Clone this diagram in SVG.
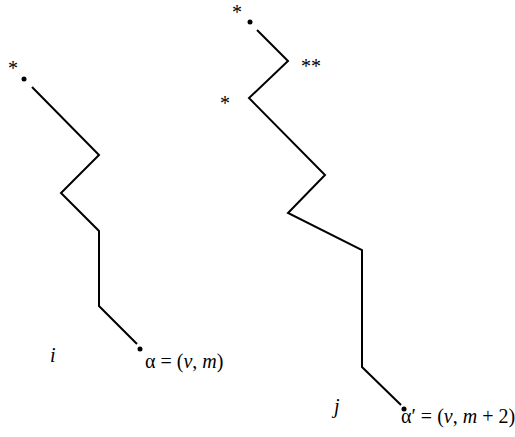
<svg xmlns="http://www.w3.org/2000/svg" width="515" height="437" viewBox="0 0 515 437">
<style>
.ln{fill:none;stroke:#000;stroke-width:2;stroke-linejoin:miter}
.dot{fill:#000}
.t{font-family:"Liberation Serif","Times New Roman",serif;font-size:20px;fill:#000}
.s{font-family:"Liberation Serif","Times New Roman",serif;font-size:20px;fill:#000}
.it{font-style:italic}
</style>
<rect width="515" height="437" fill="#fff"/>
<g id="connectors">
<polyline class="ln" points="32,87 99,155 61,193 99,231 99,306 137,344"/>
<polyline class="ln" points="257,30 288,61 249,98 325,175 288,213 362,250 362,367 401,405"/>
</g>
<g id="path-i">
<circle class="dot" cx="24" cy="79" r="2.5"/>
<text class="s" x="8" y="75">*</text>
<circle class="dot" cx="140" cy="349" r="2.5"/>
<text class="t it" x="50" y="362">i</text>
<text class="t" x="145" y="368">α = (<tspan class="it">v</tspan>, <tspan class="it">m</tspan>)</text>
</g>
<g id="path-j">
<circle class="dot" cx="250" cy="22" r="2.5"/>
<text class="s" x="232" y="19">*</text>
<text class="s" x="301" y="73">**</text>
<text class="s" x="220" y="110">*</text>
<circle class="dot" cx="404" cy="409" r="2.5"/>
<text class="t it" x="334" y="413">j</text>
<text class="t" x="401" y="423">α′ = (<tspan class="it">v</tspan>, <tspan class="it">m</tspan> + 2)</text>
</g>
</svg>
